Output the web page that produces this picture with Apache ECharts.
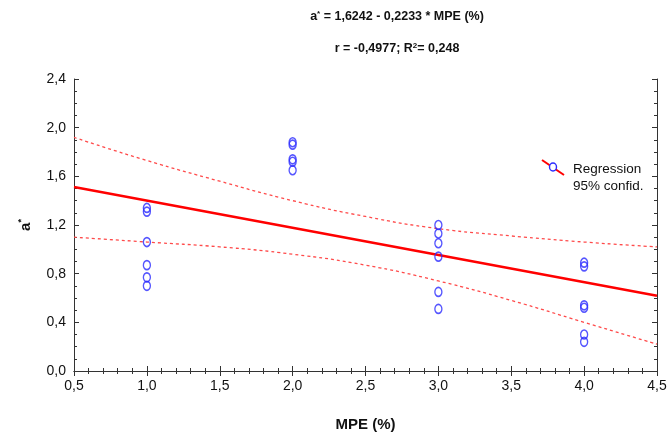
<!DOCTYPE html>
<html><head><meta charset="utf-8">
<script src="https://cdn.jsdelivr.net/npm/echarts@6/dist/echarts.min.js"></script>
<style>html,body{margin:0;padding:0;background:#fff}#c{width:671px;height:441px}</style>
</head><body><div id="c"></div>
<script>
// observed points: a* values grouped by MPE level
const pointsX1 = [1.34, 1.31, 1.06, 0.87, 0.77, 0.70];
const pointsX2 = [1.88, 1.86, 1.74, 1.72, 1.65];
const pointsX3 = [1.20, 1.13, 1.05, 0.94, 0.65, 0.51];
const pointsX4 = [0.89, 0.86, 0.54, 0.52, 0.30, 0.24];
const groupX = [1, 2, 3, 4];
// regression line endpoints
const regX = [0.5, 4.5];
const regY = [1.513, 0.619];
// 95% confidence band
const bandX = [0.5, 1.0, 1.5, 2.0, 2.5, 3.0, 3.5, 4.0, 4.5];
const bandUpper = [1.92, 1.73, 1.56, 1.40, 1.27, 1.17, 1.11, 1.06, 1.02];
const bandLower = [1.10, 1.06, 1.02, 0.96, 0.87, 0.74, 0.58, 0.40, 0.22];
const xTicks = ['0,5','1,0','1,5','2,0','2,5','3,0','3,5','4,0','4,5'];
const yTicks = ['0,0','0,4','0,8','1,2','1,6','2,0','2,4'];

const groups = [pointsX1, pointsX2, pointsX3, pointsX4];
const scatter = [];
groups.forEach((g, i) => g.forEach(v => scatter.push([groupX[i], v])));
const zip = (a, b) => a.map((v, i) => [v, b[i]]);

const FONT = '"Liberation Sans Narrow", "Liberation Sans", Arial, sans-serif';
const fmtX = v => xTicks[Math.round((v - 0.5) / 0.5)] || '';
const fmtY = v => yTicks[Math.round(v / 0.4)] || '';

const axisCommon = {
  axisLine: {show: true, lineStyle: {color: '#333', width: 1}},
  axisTick: {show: true, inside: true, length: 5, lineStyle: {color: '#333'}},
  minorTick: {show: true, length: 3, lineStyle: {color: '#333'}},
  splitLine: {show: false}
};

const chart = echarts.init(document.getElementById('c'));
chart.setOption({
  backgroundColor: '#fff',
  animation: false,
  title: [{
    text: '{b|a}{s|*}{b| = 1,6242 - 0,2233 * MPE (%)}',
    left: 392, top: 5, textAlign: 'center',
    textStyle: {rich: {
      b: {fontFamily: FONT, fontSize: 12.5, fontWeight: 'bold', color: '#111'},
      s: {fontFamily: FONT, fontSize: 8, fontWeight: 'bold', color: '#111', padding: [0,0,6,0]}
    }}
  }, {
    text: '{b|r = -0,4977; R}{s|2}{b|= 0,248}',
    left: 392, top: 37, textAlign: 'center',
    textStyle: {rich: {
      b: {fontFamily: FONT, fontSize: 12.5, fontWeight: 'bold', color: '#111'},
      s: {fontFamily: FONT, fontSize: 8, fontWeight: 'bold', color: '#111', padding: [0,0,6,0]}
    }}
  }],
  grid: {left: 74, right: 14, top: 79, bottom: 70, containLabel: false},
  xAxis: [Object.assign({}, axisCommon, {
    type: 'value', min: 0.5, max: 4.5, interval: 0.5, position: 'bottom',
    minorTick: Object.assign({}, axisCommon.minorTick, {splitNumber: 5}),
    axisLabel: {formatter: fmtX, fontFamily: FONT, fontSize: 14, color: '#111', margin: 8},
    name: 'MPE (%)', nameLocation: 'middle', nameGap: 46,
    nameTextStyle: {fontFamily: FONT, fontSize: 15, fontWeight: 'bold', color: '#111'}
  }), Object.assign({}, axisCommon, {
    type: 'value', min: 0.5, max: 4.5, interval: 0.5, position: 'top',
    minorTick: Object.assign({}, axisCommon.minorTick, {splitNumber: 5}),
    axisLabel: {show: false}
  })],
  yAxis: [Object.assign({}, axisCommon, {
    type: 'value', min: 0, max: 2.4, interval: 0.4, position: 'left',
    minorTick: Object.assign({}, axisCommon.minorTick, {splitNumber: 4}),
    axisLabel: {formatter: fmtY, fontFamily: FONT, fontSize: 14, color: '#111', margin: 8},
    name: '{b|a}{s|*}', nameLocation: 'middle', nameGap: 40, nameRotate: 90,
    nameTextStyle: {rich: {
      b: {fontFamily: FONT, fontSize: 15, fontWeight: 'bold', color: '#111'},
      s: {fontFamily: FONT, fontSize: 9, fontWeight: 'bold', color: '#111', padding: [0,0,8,0]}
    }}
  }), Object.assign({}, axisCommon, {
    type: 'value', min: 0, max: 2.4, interval: 0.4, position: 'right',
    minorTick: Object.assign({}, axisCommon.minorTick, {splitNumber: 4}),
    axisLabel: {show: false}
  })],
  series: [{
    type: 'line', data: zip(bandX, bandUpper), smooth: true, symbol: 'none',
    lineStyle: {color: '#ff4a4a', width: 1.3, type: [3, 3]}, z: 2
  }, {
    type: 'line', data: zip(bandX, bandLower), smooth: true, symbol: 'none',
    lineStyle: {color: '#ff4a4a', width: 1.3, type: [3, 3]}, z: 2
  }, {
    type: 'line', data: zip(regX, regY), symbol: 'none',
    lineStyle: {color: '#ff0000', width: 2.5}, z: 3
  }, {
    type: 'scatter', data: scatter, symbol: 'circle', symbolSize: [7, 9],
    itemStyle: {color: 'rgba(255,255,255,0)', borderColor: '#2a2aff', borderWidth: 1.5}, z: 4
  }],
  graphic: [
    {type: 'line', shape: {x1: 542, y1: 160, x2: 564, y2: 175}, style: {stroke: '#ff0000', lineWidth: 2}},
    {type: 'ellipse', shape: {cx: 553, cy: 167, rx: 3.5, ry: 4}, style: {fill: '#fff', stroke: '#2a2aff', lineWidth: 1.4}},
    {type: 'text', left: 573, top: 162, style: {text: 'Regression', font: '13.5px ' + FONT, fill: '#111'}},
    {type: 'text', left: 573, top: 179, style: {text: '95% confid.', font: '13.5px ' + FONT, fill: '#111'}}
  ]
});
</script></body></html>
